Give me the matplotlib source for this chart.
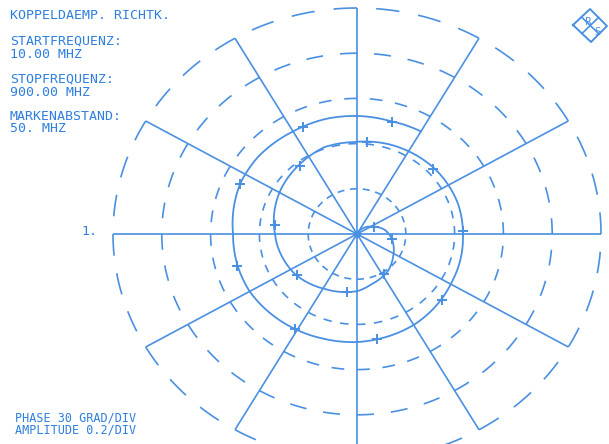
import numpy as np
import matplotlib
matplotlib.use('Agg')
import matplotlib.pyplot as plt

# plotter geometry (pixels): centre of the polar grid and scale per unit amplitude
W, H = 609, 444
CX, CY = 357, 234
SX, SY = 244, 226

BLUE = '#4a90e2'
TXT = '#2f7fdf'

# grid
rings = [0.2, 0.4, 0.6, 0.8, 1.0]
ring_dashes = [2, 3, 3, 3, 3]      # dashes per 30 deg sector
ring_fill = [0.55, 0.5, 0.5, 0.5, 0.55]
spokes = list(range(0, 360, 30))

# measured trace (unwrapped phase in deg, amplitude)
trace_phase = [60, 28, 9, -9, -35, -52, -75, -89, -118, -145, -172, -180,
               -211, -233, -251, -268, -288, -318, -342, -360, -389, -419,
               -440, -450, -466, -481, -510, -523, -540, -565, -580, -600,
               -616, -631, -645, -660]
trace_mag = [0.01, 0.07, 0.116, 0.145, 0.18, 0.207, 0.23, 0.252, 0.276, 0.31,
             0.331, 0.336, 0.368, 0.388, 0.407, 0.407, 0.418, 0.43, 0.435,
             0.434, 0.443, 0.464, 0.473, 0.478, 0.483, 0.491, 0.508, 0.509,
             0.508, 0.528, 0.53, 0.524, 0.525, 0.522, 0.518, 0.524]

# frequency markers every 50 MHz
mark_phase = [25, -9, -58, -99, -144, -187, -232, -276, -317, -358, -400,
              -440, -481, -524, -565, -605, -646]
mark_mag = [0.075, 0.145, 0.209, 0.26, 0.305, 0.339, 0.381, 0.409, 0.424,
            0.434, 0.457, 0.472, 0.491, 0.513, 0.528, 0.522, 0.516]

header = ['KOPPELDAEMP. RICHTK.', 'STARTFREQUENZ:\n10.00 MHZ',
          'STOPFREQUENZ:\n900.00 MHZ', 'MARKENABSTAND:\n50. MHZ']
header_y = [11, 37, 75, 112]
footer = 'PHASE 30 GRAD/DIV\nAMPLITUDE 0.2/DIV'

fig = plt.figure(figsize=(W / 100, H / 100), dpi=100)
# polar axes stretched to the plotter's slightly elliptic grid
ax = fig.add_axes([(CX - SX) / W, (H - CY - SY) / H, 2 * SX / W, 2 * SY / H],
                  projection='polar')
ax.set_aspect('auto')
ax.set_ylim(0, 1)
ax.grid(False)
ax.set_xticks([])
ax.set_yticks([])
ax.spines['polar'].set_visible(False)
ax.patch.set_visible(False)

# spokes
for a in spokes:
    ax.plot([np.radians(a)] * 2, [0, 1], color=BLUE, lw=1.2,
            solid_capstyle='butt', clip_on=False)

# dashed rings, each dash starting at a spoke and running counter-clockwise
for r, n, f in zip(rings, ring_dashes, ring_fill):
    step = 30 / n
    for k in range(12 * n):
        a0 = k * step
        ln, = ax.plot(np.radians([a0, a0 + f * step]), [r, r], color=BLUE,
                      lw=1.2, solid_capstyle='butt', clip_on=False)
        ln.get_path()._interpolation_steps = 8

# trace and markers (drawn as polar segments, like the plotter)
tr, = ax.plot(np.radians(trace_phase), trace_mag, color=BLUE, lw=1.3,
              clip_on=False)
tr.get_path()._interpolation_steps = 12
ax.plot(np.radians(mark_phase), mark_mag, '+', color=BLUE, ms=6.5, mew=1.4,
        clip_on=False)
ax.plot([0], [0], 'o', color=BLUE, ms=4)

# texts (pixel positions of the top of the caps)
font = dict(family='DejaVu Sans Mono', fontsize=9.5, color=TXT,
            linespacing=0.95)
for s, yy in zip(header, header_y):
    fig.text(10 / W, 1 - (yy - 2) / H, s, va='top', ha='left', **font)
fig.text(15 / W, 1 - 436 / H, footer, va='bottom', ha='left',
         family='DejaVu Sans Mono', fontsize=8.5, color=TXT, linespacing=0.85)
fig.text(81 / W, 1 - 235 / H, '1.', va='baseline', ha='left', **font)

# R&S logo top right
ov = fig.add_axes([0, 0, 1, 1], facecolor='none')
ov.set_xlim(0, W)
ov.set_ylim(H, 0)
ov.axis('off')
lx = [573, 590, 607, 591, 573]
ly = [25, 9, 26, 42, 25]
ov.plot(lx, ly, color=BLUE, lw=1.4)
ov.plot([581.5, 599], [17, 34], color=BLUE, lw=1.2)
ov.plot([598.5, 582], [17.5, 33.5], color=BLUE, lw=1.2)
ov.text(588, 22, 'R', color=BLUE, fontsize=7, ha='center', va='center',
        family='DejaVu Sans')
ov.text(597, 32, 'S', color=BLUE, fontsize=7, ha='center', va='center',
        family='DejaVu Sans')

fig.savefig('out.png', dpi=100)
